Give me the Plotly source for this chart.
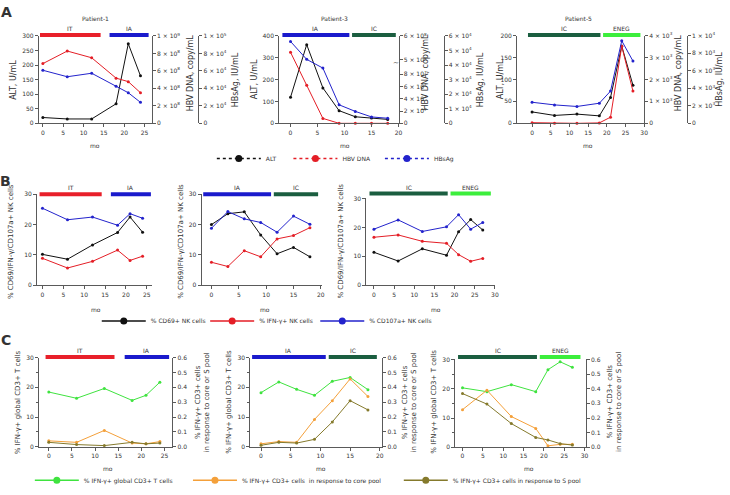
import plotly.graph_objects as go

W, H = 730, 495
def fx(px): return px / W
def fy(py): return 1 - py / H

FONT = "DejaVu Sans"
TXT = "#333333"
AX = "#5a5a5a"

# ---------------- data ----------------
# Panel A (ALT U/mL, HBV DNA copy/mL, HBsAg IU/mL)
p1_mo = [0, 6, 12, 18, 21, 24]
p1_alt = [20, 15, 15, 67, 273, 163]
p1_dna = [6.83e8, 8.27e8, 7.5e8, 5.17e8, 4.77e8, 3.5e8]
p1_hbsag = [6.07e4, 5.33e4, 5.73e4, 4.23e4, 3.5e4, 2.4e4]

p3_mo = [0, 3, 6, 9, 12, 15, 18]
p3_alt = [119, 360, 162, 58, 30, 24, 18]
p3_dna = [5.32e8, 6.2e7, 8e6, 0, 0, 0, 0]
p3_hbsag = [5.62e4, 4.39e4, 3.79e4, 1.27e4, 8.2e3, 4.4e3, 3.5e3]

p5_mo = [0, 6, 12, 18, 21, 24, 27]
p5_alt = [26, 18, 21, 17, 59, 176, 87]
p5_dna = [30, 0, 0, 20, 280, 3510, 1470]
p5_hbsag = [2400, 2100, 1920, 2290, 3670, 9400, 7100]

# Panel B (% NK cells)
b1_cd69 = [10.2, 8.6, 13.3, 17.4, 22.5, 17.5]
b1_ifng = [8.9, 5.7, 7.9, 11.6, 8.2, 9.6]
b1_cd107 = [25.4, 21.6, 22.5, 19.8, 23.6, 22.1]
b3_cd69 = [20.0, 23.6, 24.2, 16.6, 10.4, 12.5, 9.4]
b3_ifng = [7.6, 6.2, 11.4, 9.4, 15.3, 16.4, 19.0]
b3_cd107 = [18.8, 24.3, 21.9, 20.7, 17.5, 22.8, 20.1]
b5_cd69 = [11.4, 8.4, 12.6, 10.4, 18.5, 22.7, 19.1]
b5_ifng = [16.6, 17.4, 15.2, 14.5, 10.6, 8.3, 9.3]
b5_cd107 = [19.4, 22.6, 18.6, 20.2, 24.4, 19.4, 21.7]

# Panel C (% IFN-g+ CD3+ T cells)
c1_global = [18.4, 16.3, 19.6, 15.6, 17.3, 21.7]
c1_core = [0.04, 0.03, 0.11, 0.025, 0.02, 0.035]
c1_s = [0.03, 0.015, 0.008, 0.03, 0.02, 0.025]
c3_global = [18.2, 21.8, 19.3, 17.3, 22.0, 23.3, 19.2]
c3_core = [0.02, 0.035, 0.03, 0.184, 0.31, 0.456, 0.338]
c3_s = [0.01, 0.03, 0.025, 0.05, 0.167, 0.31, 0.248]
c5_global = [20.3, 19.0, 21.4, 19.0, 26.5, 29.2, 27.3]
c5_core = [0.257, 0.39, 0.21, 0.129, 0.01, 0.02, 0.02]
c5_s = [0.367, 0.295, 0.162, 0.067, 0.05, 0.025, 0.015]

# disease phases (label, start month, end month)
p1_phases = [("IT", -0.7, 14.2), ("IA", 16.4, 26.0)]
p3_phases = [("IA", -1.5, 10.9), ("IC", 11.4, 19.5)]
p5_phases = [("IC", -1.1, 18.3), ("ENEG", 19.0, 29.0)]

patients = ["Patient-1", "Patient-3", "Patient-5"]

# ---------------- styles ----------------
PH_COL = {"IT": "#e8202a", "IA": "#1a1acc", "IC": "#1b5e40", "ENEG": "#3cee3c"}
BLACK, RED, BLUE = "#111111", "#e41e26", "#2323cc"
GREEN, ORANGE, OLIVE = "#3fe33f", "#f4a03a", "#857a2c"

def sup(m, e):
    return f"{m} × 10<sup>{e}</sup>"

def tf(size=6):
    return dict(family=FONT, size=size, color=TXT)

def xax(dom, rng, tickvals, anchor):
    return dict(domain=[fx(dom[0]), fx(dom[1])], range=rng, anchor=anchor,
                showline=True, linecolor=AX, linewidth=1, ticks="outside", ticklen=3,
                tickcolor=AX, tickwidth=1, tickvals=tickvals, tickfont=tf(),
                showgrid=False, zeroline=False, fixedrange=True)

def yax(dom, rng, tickvals, anchor, ticktext=None, **kw):
    d = dict(domain=[fy(dom[1]), fy(dom[0])], range=rng, anchor=anchor,
             showline=True, linecolor=AX, linewidth=1, ticks="outside", ticklen=3,
             tickcolor=AX, tickwidth=1, tickvals=tickvals, tickfont=tf(),
             showgrid=False, zeroline=False, fixedrange=True)
    if ticktext is not None:
        d["ticktext"] = ticktext
    d.update(kw)
    return d

fig = go.Figure()
lay = {}

def line(x, y, xa, ya, color, width=1, size=3, symbol="circle"):
    fig.add_trace(go.Scatter(x=x, y=y, xaxis=xa, yaxis=ya, mode="lines+markers",
                             line=dict(color=color, width=width),
                             marker=dict(size=size, color=color, symbol=symbol),
                             showlegend=False, hoverinfo="skip", cliponaxis=False))

# ---------------- Panel A ----------------
A_TOP, A_BOT = 32.7, 122.3
# Patient-1
lay["xaxis"] = xax((39, 152.7), [-1, 26.8], [0, 5, 10, 15, 20, 25], "y")
lay["yaxis"] = yax((A_TOP, A_BOT), [0, 300], [0, 50, 100, 150, 200, 250, 300], "x")
lay["yaxis2"] = yax((A_TOP, A_BOT), [0, 1e9], [0, 2e8, 4e8, 6e8, 8e8, 1e9], "x",
                    ["0", sup(2, 8), sup(4, 8), sup(6, 8), sup(8, 8), sup(1, 9)],
                    overlaying="y", side="right")
lay["yaxis3"] = yax((A_TOP, A_BOT), [0, 1e5], [0, 2e4, 4e4, 6e4, 8e4, 1e5], "free",
                    ["0", sup(2, 4), sup(4, 4), sup(6, 4), sup(8, 4), sup(1, 5)],
                    overlaying="y", side="right", position=fx(199.3))
line(p1_mo, p1_alt, "x", "y", BLACK)
line(p1_mo, p1_dna, "x", "y2", RED)
line(p1_mo, p1_hbsag, "x", "y3", BLUE)

# Patient-3 (broken HBV DNA axis)
def dna_break(v):
    lo_v, lo_t = 9e7, 9e7 * 0.5625 / 8e7
    up_v, up_t = 5e8, 0.725
    if v <= lo_v:
        return v * 0.5625 / 8e7
    if v >= up_v:
        return up_t + (v - up_v) / 1e8 * (1 - up_t)
    return lo_t + (v - lo_v) / (up_v - lo_v) * (up_t - lo_t)

dna3_ticks = [0, 2e7, 4e7, 6e7, 8e7, 5e8, 6e8]
dna3_text = ["0", sup(2, 7), sup(4, 7), sup(6, 7), sup(8, 7), sup(5, 8), sup(6, 8)]
lay["xaxis2"] = xax((280.7, 400.7), [-2.1, 20], [0, 5, 10, 15, 20], "y4")
lay["yaxis4"] = yax((A_TOP, A_BOT), [0, 400], [0, 100, 200, 300, 400], "x2")
lay["yaxis5"] = yax((A_TOP, A_BOT), [0, 1], [dna_break(v) for v in dna3_ticks], "x2",
                    dna3_text, overlaying="y4", side="right")
lay["yaxis6"] = yax((A_TOP, A_BOT), [0, 6e4], [0, 1e4, 2e4, 3e4, 4e4, 5e4, 6e4], "free",
                    ["0"] + [sup(k, 4) for k in range(1, 7)],
                    overlaying="y4", side="right", position=fx(446))
line(p3_mo, p3_alt, "x2", "y4", BLACK)
line(p3_mo, [dna_break(v) for v in p3_dna], "x2", "y5", RED)
line(p3_mo, p3_hbsag, "x2", "y6", BLUE)

# Patient-5
lay["xaxis3"] = xax((520, 647.7), [-4, 30], [0, 5, 10, 15, 20, 25, 30], "y7")
lay["yaxis7"] = yax((32.3, A_BOT), [0, 200], [0, 50, 100, 150, 200], "x3")
lay["yaxis8"] = yax((32.3, A_BOT), [0, 4e3], [0, 1e3, 2e3, 3e3, 4e3], "x3",
                    ["0", sup(1, 3), sup(2, 3), sup(3, 3), sup(4, 3)],
                    overlaying="y7", side="right")
lay["yaxis9"] = yax((32.3, A_BOT), [0, 1e4], [0, 2e3, 4e3, 6e3, 8e3, 1e4], "free",
                    ["0", sup(2, 3), sup(4, 3), sup(6, 3), sup(8, 3), sup(1, 4)],
                    overlaying="y7", side="right", position=fx(690.7))
line(p5_mo, p5_alt, "x3", "y7", BLACK)
line(p5_mo, p5_dna, "x3", "y8", RED)
line(p5_mo, p5_hbsag, "x3", "y9", BLUE)

# ---------------- Panel B ----------------
B_BOT = 288.3
lay["xaxis4"] = xax((37.3, 153), [-1.29, 26.3], [0, 5, 10, 15, 20, 25], "y10")
lay["yaxis10"] = yax((195, B_BOT), [0, 30], [0, 10, 20, 30], "x4")
lay["xaxis5"] = xax((202.7, 324), [-1.8, 20.25], [0, 5, 10, 15, 20], "y11")
lay["yaxis11"] = yax((195, B_BOT), [0, 30], [0, 10, 20, 30], "x5")
lay["xaxis6"] = xax((368.3, 498), [-1.9, 30.1], [0, 5, 10, 15, 20, 25, 30], "y12")
lay["yaxis12"] = yax((199.3, B_BOT), [0, 30], [0, 10, 20, 30], "x6")
for mo, a, b, c, xa, ya in [(p1_mo, b1_cd69, b1_ifng, b1_cd107, "x4", "y10"),
                            (p3_mo, b3_cd69, b3_ifng, b3_cd107, "x5", "y11"),
                            (p5_mo, b5_cd69, b5_ifng, b5_cd107, "x6", "y12")]:
    line(mo, a, xa, ya, BLACK)
    line(mo, b, xa, ya, RED)
    line(mo, c, xa, ya, BLUE)

# ---------------- Panel C ----------------
minor = dict(tickvals=[5, 15, 25], ticklen=2, tickcolor=AX, ticks="outside")
r_ticks = [0, 0.1, 0.2, 0.3, 0.4, 0.5, 0.6]
r_text = [f"{v:.1f}" for v in r_ticks]
cdefs = [((39.3, 173.3), [-2.1, 26.7], [0, 5, 10, 15, 20, 25], (362.3, 453.8)),
         ((251.7, 384.3), [-1.8, 20.4], [0, 5, 10, 15, 20], (362.3, 453.8)),
         ((457.7, 589), [-1.8, 30.3], [0, 5, 10, 15, 20, 25, 30], (364.3, 454.3))]
cdata = [(p1_mo, c1_global, c1_core, c1_s), (p3_mo, c3_global, c3_core, c3_s),
         (p5_mo, c5_global, c5_core, c5_s)]
for i, ((xd, xr, xt, yd), (mo, g, co, s)) in enumerate(zip(cdefs, cdata)):
    xi = 7 + i
    yl, yr = 13 + 2 * i, 14 + 2 * i
    lay[f"xaxis{xi}"] = xax(xd, xr, xt, f"y{yl}")
    lay[f"yaxis{yl}"] = yax(yd, [0, 30], [0, 10, 20, 30], f"x{xi}", minor=minor)
    lay[f"yaxis{yr}"] = yax(yd, [0, 0.6], r_ticks, f"x{xi}", r_text,
                            overlaying=f"y{yl}", side="right")
    line(mo, g, f"x{xi}", f"y{yl}", GREEN)
    line(mo, co, f"x{xi}", f"y{yr}", ORANGE)
    line(mo, s, f"x{xi}", f"y{yr}", OLIVE)

# ---------------- phase bars ----------------
shapes, ann = [], []
phase_rows = [(["x", "x2", "x3"], [31.7, 31.7, 31.7], 25),
              (["x4", "x5", "x6"], [195, 195, 194.3], 187.7),
              (["x7", "x8", "x9"], [361.7, 361.7, 361.7], 355)]
for xas, ys, ly in phase_rows:
    for xa, yb, phases in zip(xas, ys, [p1_phases, p3_phases, p5_phases]):
        for lab, s0, s1 in phases:
            shapes.append(dict(type="line", xref=xa, yref="paper", x0=s0, x1=s1,
                               y0=fy(yb), y1=fy(yb), line=dict(color=PH_COL[lab], width=4)))
            ann.append(dict(text=lab, xref=xa, yref="paper", x=(s0 + s1) / 2, y=fy(ly),
                            showarrow=False, font=tf(), xanchor="center", yanchor="middle"))

# ---------------- text annotations ----------------
def note(text, px, py, size=6, angle=0, bold=False):
    if bold:
        text = f"<b>{text}</b>"
    ann.append(dict(text=text, xref="paper", yref="paper", x=fx(px), y=fy(py),
                    showarrow=False, textangle=angle, font=tf(size),
                    xanchor="center", yanchor="middle"))

note("A", 7, 8, 14, bold=True)
note("B", 6, 181, 14, bold=True)
note("C", 6, 344, 14, bold=True)
for t, px in zip(patients, [96, 336.7, 581.7]):
    note(t, px, 15)
for px in [13.3, 256, 503.3]:
    note("ALT, U/mL", px, 77.5, 8, -90)
for px in [191, 427.5, 681.7]:
    note("HBV DNA, copy/mL", px, 70, 8, -90)
for px in [237, 483.3, 724]:
    note("HBsAg, IU/mL", px, 77.5, 8, -90)
note("~", 398, 60, 7)
for px in [96, 346.7, 591.7]:
    note("mo", px, 145)
for px in [11, 181.7, 343.3]:
    note("% CD69/IFN-γ/CD107a+ NK cells", px, 243, 7, -90)
for px in [96.7, 266, 438.3]:
    note("mo", px, 312.7)
for px in [18.3, 230, 436]:
    note("% IFN-γ+ global CD3+ T cells", px, 408, 7, -90)
for px in [203.5, 411.7, 617.2]:
    note("% IFN-γ+ CD3+ cells<br>in response to core or S pool", px, 408, 7, -90)
for px in [108.6, 323, 532]:
    note("mo", px, 476)

# ---------------- legends ----------------
leg_items = [("ALT", BLACK, "dot", 240, 158.3), ("HBV DNA", RED, "dot", 317, 158.3),
             ("HBsAg", BLUE, "dot", 409, 158.3),
             ("% CD69+ NK cells", BLACK, "solid", 124.3, 325),
             ("% IFN-γ+ NK cells", RED, "solid", 233.3, 325),
             ("% CD107a+ NK cells", BLUE, "solid", 344, 325),
             ("% IFN-γ+ global CD3+ T cells", GREEN, "solid", 57, 488),
             ("% IFN-γ+ CD3+ cells  in response to core pool", ORANGE, "solid", 216, 488),
             ("% IFN-γ+ CD3+ cells in response to S pool", OLIVE, "solid", 428, 488)]
ITEMW = 44
for k, (name, col, dash, mx, my) in enumerate(leg_items):
    lid = "legend" if k == 0 else f"legend{k + 1}"
    fig.add_trace(go.Scatter(x=[None], y=[None], xaxis="x", yaxis="y", mode="lines+markers",
                             name=name, legend=lid,
                             line=dict(color=col, width=1.5, dash=dash),
                             marker=dict(size=7, color=col), showlegend=True))
    lay[lid] = dict(x=fx(mx - (ITEMW + 10) / 2), y=fy(my), xanchor="left", yanchor="middle",
                    bgcolor="rgba(0,0,0,0)", borderwidth=0, font=tf(), itemwidth=ITEMW,
                    orientation="h", itemclick=False, itemdoubleclick=False)

fig.update_layout(**lay)
fig.update_layout(width=W, height=H, margin=dict(l=0, r=0, t=0, b=0),
                  paper_bgcolor="white", plot_bgcolor="white",
                  shapes=shapes, annotations=ann, showlegend=True,
                  font=dict(family=FONT, color=TXT))
fig.write_html("out.html", config={"displayModeBar": False, "staticPlot": True},
               post_script="document.body.style.margin='0';")
